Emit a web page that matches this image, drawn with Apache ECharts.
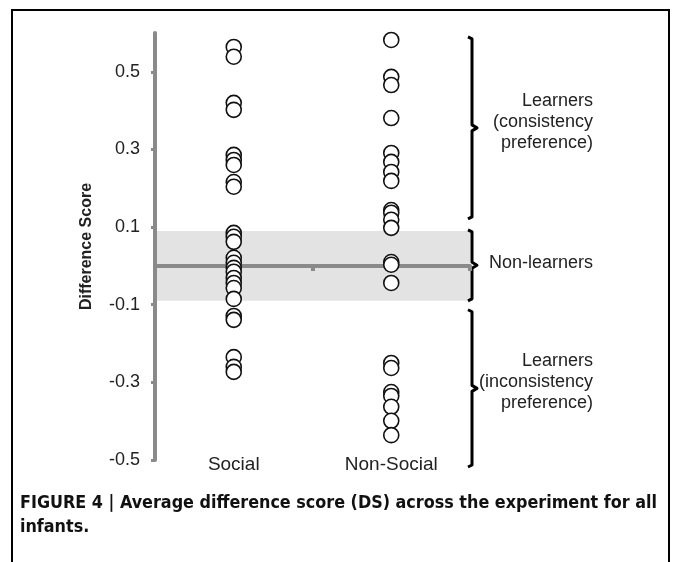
<!DOCTYPE html>
<html>
<head>
<meta charset="utf-8">
<script src="https://cdn.jsdelivr.net/npm/echarts@6/dist/echarts.min.js"></script>
<style>
html,body{margin:0;padding:0;background:#fff;}
#main{width:673px;height:562px;}
</style>
</head>
<body>
<div id="main"></div>
<script>
var categories = ['Social', 'Non-Social'];
var socialScores = [0.564, 0.539, 0.420, 0.402, 0.286, 0.273, 0.260, 0.216, 0.204,
	0.085, 0.075, 0.062, 0.021, 0.008, -0.005, -0.015, -0.031, -0.044, -0.057,
	-0.085, -0.129, -0.139, -0.235, -0.260, -0.273];
var nonSocialScores = [0.582, 0.487, 0.466, 0.381, 0.291, 0.268, 0.242, 0.219,
	0.144, 0.137, 0.119, 0.098, 0.010, 0.003, -0.044,
	-0.250, -0.263, -0.325, -0.335, -0.363, -0.399, -0.436];
var yTicks = [-0.5, -0.3, -0.1, 0.1, 0.3, 0.5];
var bandRange = [-0.09, 0.09];
var groupLabels = ['Learners\n(consistency\npreference)', 'Non-learners', 'Learners\n(inconsistency\npreference)'];
var groupRanges = [[0.59, 0.121], [0.093, -0.09], [-0.113, -0.518]];
var captionLines = ['FIGURE 4 | Average difference score (DS) across the experiment for all', 'infants.'];

var GRAY = '#8a8a8a';
var FONT = '"Liberation Sans", Arial, sans-serif';
var CAP_FONT = '"DejaVu Sans Condensed", "Liberation Sans", sans-serif';

function toPoints(cat, list){
	return list.map(function(v){ return [cat, v]; });
}

// pick a caption size so the first line spans about 640px like the figure
function captionSize(){
	var c = document.createElement('canvas').getContext('2d');
	c.font = 'bold 20px ' + CAP_FONT;
	var w = c.measureText(captionLines[0]).width;
	return Math.min(22, Math.floor(20 * 640 / w * 10) / 10);
}

var dotStyle = {color:'#fff', borderColor:'#111', borderWidth:1.6, opacity:1};

var myChart = echarts.init(document.getElementById('main'));
myChart.setOption({
	animation:false,
	grid:{left:155, right:203, top:33, bottom:102, containLabel:false, outerBoundsMode:'none'},
	xAxis:[
		{
			type:'category',
			data:categories,
			position:'bottom',
			axisLine:{show:false, onZero:false},
			axisTick:{show:false},
			axisLabel:{fontSize:19, color:'#222', fontFamily:FONT, margin:5, verticalAlign:'middle'},
			splitLine:{show:false}
		},
		{
			type:'category',
			data:categories,
			position:'top',
			axisLine:{show:true, onZero:true, lineStyle:{color:GRAY, width:4}},
			axisTick:{show:true, inside:true, length:5, lineStyle:{color:GRAY, width:4}},
			axisLabel:{show:false},
			splitLine:{show:false}
		}
	],
	yAxis:{
		type:'value',
		min:-0.5,
		max:0.6,
		name:'Difference Score',
		nameLocation:'middle',
		nameGap:60,
		nameTextStyle:{fontWeight:'bold', fontSize:16, color:'#222', fontFamily:FONT},
		axisLine:{show:true, lineStyle:{color:GRAY, width:4}},
		axisTick:{show:true, length:4, customValues:yTicks, lineStyle:{color:GRAY, width:3}},
		axisLabel:{customValues:yTicks, fontSize:18, color:'#222', fontFamily:FONT, margin:15},
		splitLine:{show:false}
	},
	series:[
		{
			type:'scatter',
			data:[],
			silent:true,
			markArea:{
				silent:true,
				z:-1,
				itemStyle:{color:'#e3e3e3'},
				data:[[{yAxis:bandRange[1]}, {yAxis:bandRange[0]}]]
			}
		},
		{
			type:'scatter',
			data:toPoints(categories[0], socialScores),
			symbol:'circle',
			symbolSize:15,
			itemStyle:dotStyle
		},
		{
			type:'scatter',
			data:toPoints(categories[1], nonSocialScores),
			symbol:'circle',
			symbolSize:15,
			itemStyle:dotStyle
		}
	]
});

// brackets + labels on the right, border and caption
var bx = 472;
var graphics = [];
groupRanges.forEach(function(r, i){
	var yTop = myChart.convertToPixel({yAxisIndex:0}, r[0]);
	var yBot = myChart.convertToPixel({yAxisIndex:0}, r[1]);
	var yMid = (yTop + yBot) / 2;
	graphics.push({
		type:'polyline',
		shape:{points:[[bx-4,yTop],[bx,yTop+2],[bx,yMid-3],[bx+5,yMid],[bx,yMid+3],[bx,yBot-2],[bx-4,yBot]]},
		style:{stroke:'#000', lineWidth:3, fill:null, lineJoin:'round'}
	});
	graphics.push({
		type:'text',
		x:593,
		y:yMid - (i === 1 ? 2 : 6),
		style:{text:groupLabels[i], font:'18px ' + FONT, fill:'#222', align:'right', verticalAlign:'middle', lineHeight:21}
	});
});
graphics.push({
	type:'rect',
	shape:{x:12, y:10, width:657, height:600},
	style:{stroke:'#000', lineWidth:2, fill:null}
});
var capSize = captionSize();
graphics.push({
	type:'text',
	x:20,
	y:491,
	style:{text:captionLines.join('\n'), font:'bold ' + capSize + 'px ' + CAP_FONT, fill:'#111', lineHeight:24}
});
myChart.setOption({graphic:graphics});
</script>
</body>
</html>
